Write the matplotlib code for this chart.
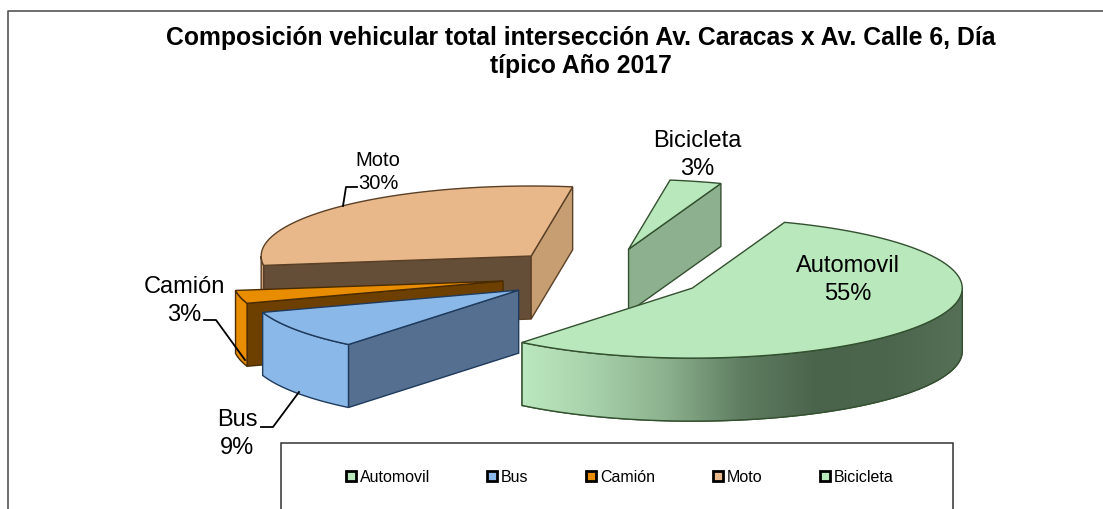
import numpy as np
import matplotlib
matplotlib.use('Agg')
import matplotlib.pyplot as plt
from matplotlib.colors import LinearSegmentedColormap
from matplotlib.patches import Patch, Polygon, Rectangle

categories = ['Automovil', 'Bus', 'Camión', 'Moto', 'Bicicleta']
values = [55.3, 9.0, 3.0, 29.6, 3.1]
top_colors = ['#b9e8bc', '#8ab8e8', '#e88c00', '#e8b88a', '#b9e8bc']
wall_colors = ['#8aaf8c', '#8ab8e8', '#e88c00', '#d9ab7e', '#8db08e']
face_t0_colors = ['#8aaf8c', '#546f8f', '#6e4000', '#644e38', '#8db08e']
face_t1_colors = ['#8aaf8c', '#546f8f', '#6e4000', '#c79d72', '#8db08e']
edge_colors = ['#33502f', '#1f3a5c', '#4a2c00', '#5a4026', '#33502f']

#Pie geometry in pixels
cx, cy = 603, 275
rx, ry = 270, 70
depth = 63
explode = 0.38
start_angle = 70

plt.rcParams['font.family'] = ['Liberation Sans', 'DejaVu Sans']

fig = plt.figure(figsize=(11.03, 5.09), dpi=100)
ax = fig.add_axes([0, 0, 1, 1])
ax.set_xlim(0, 1103)
ax.set_ylim(509, 0)
ax.axis('off')


def rim(px, py, a, b, dy=0):
    t = np.radians(np.linspace(a, b, 90))
    return np.column_stack([px + rx * np.cos(t), py - ry * np.sin(t) + dy])


#Chart frame, only the left and top edges are inside the image
ax.plot([8, 8, 1103], [509, 10.5, 10.5], color='#555555', lw=1.2)

ax.text(581, 38, 'Composición vehicular total intersección Av. Caracas x Av. Calle 6, Día',
        ha='center', va='center', fontsize=17.8, fontweight='bold')
ax.text(581, 66, 'típico Año 2017', ha='center', va='center', fontsize=17.8, fontweight='bold')

#Slice angles go clockwise from the start angle
angles = start_angle - np.cumsum([0] + values) * 3.6
slices = []
for i in range(len(values)):
    t0, t1 = angles[i], angles[i + 1]
    mid = np.radians((t0 + t1) / 2)
    px = cx + explode * rx * np.cos(mid)
    py = cy - explode * ry * np.sin(mid)
    slices.append((i, t0, t1, px, py))

wall_cmap = LinearSegmentedColormap.from_list(
    'auto_wall', ['#bce8bf', '#a6d0a9', '#8aaf8c', '#5f7d61', '#4a644c', '#4c664e', '#566f57'])

#Back slices first so the front ones cover them
for i, t0, t1, px, py in [slices[k] for k in [4, 3, 2, 1, 0]]:
    edge = edge_colors[i]

    for t, color, visible in [(t0, face_t0_colors[i], np.cos(np.radians(t0)) < 0),
                              (t1, face_t1_colors[i], np.cos(np.radians(t1)) > 0)]:
        if visible:
            ex = px + rx * np.cos(np.radians(t))
            ey = py - ry * np.sin(np.radians(t))
            ax.add_patch(Polygon([(px, py), (ex, ey), (ex, ey + depth), (px, py + depth)],
                                 facecolor=color, edgecolor=edge, lw=1))

    wall_a, wall_b = min(t0, 0), max(t1, -180)
    if wall_a > wall_b:
        upper = rim(px, py, wall_a, wall_b)
        lower = rim(px, py, wall_b, wall_a, depth)
        wall = Polygon(np.vstack([upper, lower]), facecolor=wall_colors[i], edgecolor=edge, lw=1)
        ax.add_patch(wall)
        if i == 0:
            grad = np.linspace(0, 1, 256).reshape(1, -1)
            xs = np.vstack([upper, lower])[:, 0]
            ys = np.vstack([upper, lower])[:, 1]
            img = ax.imshow(grad, cmap=wall_cmap, aspect='auto', zorder=wall.get_zorder(),
                            extent=[xs.min(), xs.max(), ys.max(), ys.min()])
            img.set_clip_path(wall)
            ax.add_patch(Polygon(np.vstack([upper, lower]), fill=False, edgecolor=edge, lw=1))

    ax.add_patch(Polygon(np.vstack([[(px, py)], rim(px, py, t0, t1)]),
                         facecolor=top_colors[i], edgecolor=edge, lw=1))

ax.set_xlim(0, 1103)
ax.set_ylim(509, 0)

#Data labels and their leader lines
label_pos = [(848, 280), (237, 434), (184, 301), (378, 172), (697, 155)]
label_size = [17, 17, 17, 14.5, 17]
for name, v, (lx, ly), size in zip(categories, values, label_pos, label_size):
    ax.text(lx, ly, f'{name}\n{v:.0f}%', ha='center', va='center', fontsize=size, linespacing=1.3)

for lxs, lys in [([343, 346, 357], [206, 187, 187]),
                 ([204, 216, 245], [320, 320, 360]),
                 ([261, 273, 299], [427, 427, 392])]:
    ax.plot(lxs, lys, color='black', lw=1.3)

#Legend box, cut off by the bottom of the image
ax.add_patch(Rectangle((281, 443), 672, 80, facecolor='white', edgecolor='#333333', lw=1.1))
handles = [Patch(facecolor=c, edgecolor='black', lw=2) for c in top_colors]
ax.legend(handles, categories, ncol=5, frameon=False, fontsize=11.5,
          loc='center', bbox_to_anchor=(619.5 / 1103, 1 - 477 / 509),
          handlelength=0.62, handleheight=0.62, handletextpad=0.25, columnspacing=3.6)

fig.savefig('out.png', dpi=100)
